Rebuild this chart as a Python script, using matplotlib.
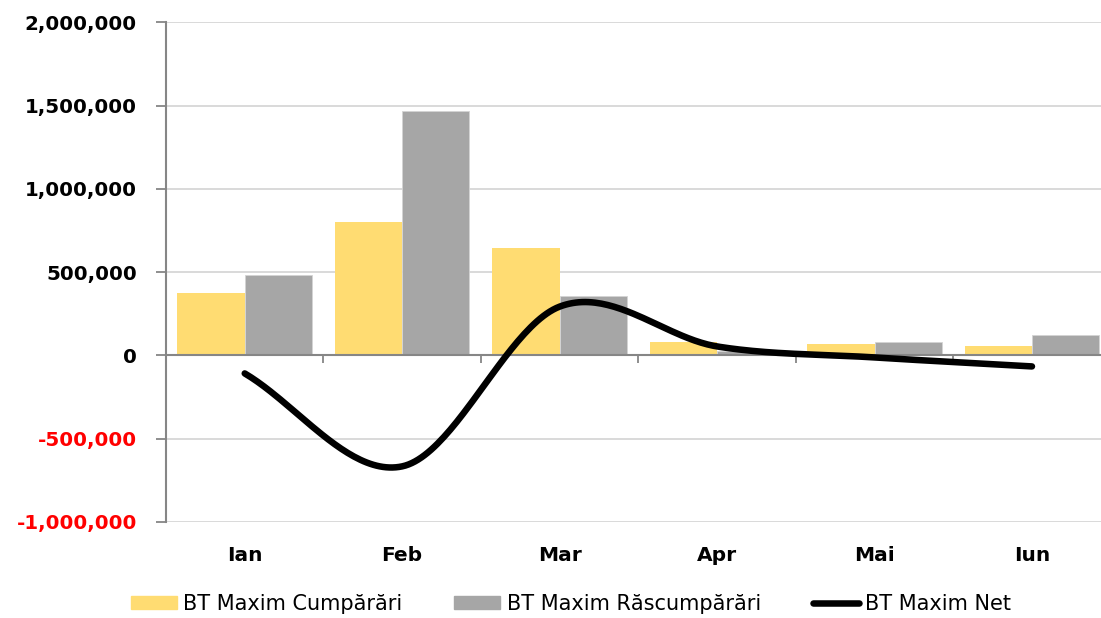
import matplotlib.pyplot as plt
import numpy as np
from matplotlib.markers import TICKDOWN
from matplotlib.patches import Patch
from matplotlib.lines import Line2D

months = ['Ian', 'Feb', 'Mar', 'Apr', 'Mai', 'Iun']
cumparari = [376000, 801000, 647000, 82000, 70000, 58000]
rascumparari = [484000, 1467000, 354000, 28000, 82000, 124000]
net = [-108000, -666000, 293000, 54000, -12000, -66000]
yticks = [-1000000, -500000, 0, 500000, 1000000, 1500000, 2000000]

YELLOW = '#FFDC72'
GREY = '#A6A6A6'
AXIS = '#868686'


def smooth(xs, ys, n=50):
    # catmull-rom curve through the points, close to excel's "smoothed line"
    x = np.asarray(xs, float)
    y = np.asarray(ys, float)
    px = np.concatenate([[2 * x[0] - x[1]], x, [2 * x[-1] - x[-2]]])
    py = np.concatenate([[2 * y[0] - y[1]], y, [2 * y[-1] - y[-2]]])
    t = np.linspace(0, 1, n)
    h00 = 2 * t**3 - 3 * t**2 + 1
    h10 = t**3 - 2 * t**2 + t
    h01 = -2 * t**3 + 3 * t**2
    h11 = t**3 - t**2
    ox, oy = [], []
    for i in range(1, len(px) - 2):
        for p, o in ((px, ox), (py, oy)):
            m1 = (p[i + 1] - p[i - 1]) / 2
            m2 = (p[i + 2] - p[i]) / 2
            o.extend(h00 * p[i] + h10 * m1 + h01 * p[i + 1] + h11 * m2)
    return np.array(ox), np.array(oy)


fig = plt.figure(figsize=(11.01, 6.18), dpi=100)
ax = fig.add_axes([166 / 1101, 1 - 522 / 618, (1110.7 - 166) / 1101, (522 - 22.3) / 618])

x = np.arange(len(months))
w = 0.4275
ax.bar(x - w / 2, cumparari, w, color=YELLOW, zorder=2)
ax.bar(x + w / 2, rascumparari, w, color=GREY, edgecolor='#d4d4d4', linewidth=0.6, zorder=2)

sx, sy = smooth(x, net)
ax.plot(sx, sy, color='black', lw=4.7, solid_capstyle='round', zorder=4)

# category axis drawn at zero with ticks between categories
ax.axhline(0, color=AXIS, lw=1.5, zorder=3)
ax.plot(np.arange(len(months) + 1) - 0.5, np.zeros(len(months) + 1), ls='none',
        marker=TICKDOWN, ms=6, mew=1.3, color=AXIS, zorder=3, clip_on=False)

ax.set_xlim(-0.5, len(months) - 0.5)
ax.set_ylim(-1000000, 2000000)
ax.set_yticks(yticks)
ax.set_yticklabels(['{:,}'.format(v) for v in yticks], fontsize=14.3, fontweight='bold')
for lab, v in zip(ax.get_yticklabels(), yticks):
    lab.set_color('red' if v < 0 else 'black')
ax.tick_params(axis='y', length=7, width=1.3, color=AXIS, pad=14)

ax.set_xticks(x)
ax.set_xticklabels(months, fontsize=14.5, fontweight='bold')
ax.tick_params(axis='x', length=0, pad=17)

ax.grid(axis='y', color='#D9D9D9', lw=1.4, zorder=0)
ax.set_axisbelow(True)
for s in ['top', 'right', 'bottom']:
    ax.spines[s].set_visible(False)
ax.spines['left'].set_color(AXIS)
ax.spines['left'].set_linewidth(1.5)

handles = [Patch(color=YELLOW, label='BT Maxim Cumpărări'),
           Patch(color=GREY, label='BT Maxim Răscumpărări'),
           Line2D([], [], color='black', lw=4.7, solid_capstyle='round', label='BT Maxim Net')]
fig.legend(handles=handles, loc='center', bbox_to_anchor=(571 / 1101, 1 - 604 / 618),
           ncol=3, frameon=False, fontsize=15, handlelength=2.2, handleheight=0.55,
           handletextpad=0.3, columnspacing=2.5)

fig.savefig('out.png', dpi=100)
